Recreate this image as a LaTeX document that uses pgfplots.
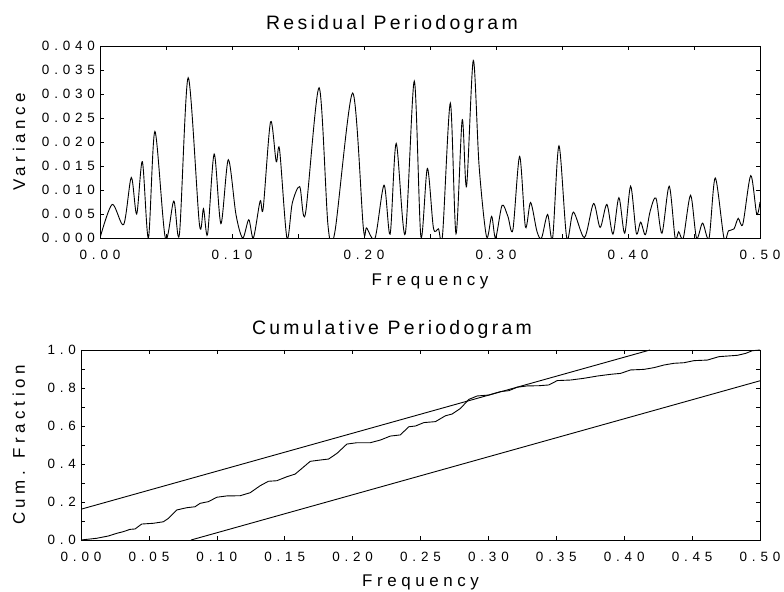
\documentclass[border=0pt]{standalone}
\usepackage{pgfplots}
\pgfplotsset{compat=1.18}
\usepackage{fontspec}
\setmainfont{Liberation Sans}
\newfontfamily\tickfont{Liberation Sans}[LetterSpace=36]
\newfontfamily\labfont{Liberation Sans}[LetterSpace=27]
\newfontfamily\titfont{Liberation Sans}[LetterSpace=17]

\pgfplotstableread{
f v
0.0000 0.0000
0.0092 0.0070
0.0179 0.0028
0.0237 0.0126
0.0278 0.0050
0.0321 0.0159
0.0367 0.0000
0.0416 0.0222
0.0495 0.0000
0.0559 0.0077
0.0602 0.0009
0.0668 0.0334
0.0753 0.0029
0.0784 0.0061
0.0815 0.0008
0.0865 0.0175
0.0916 0.0030
0.0972 0.0163
0.1030 0.0049
0.1081 0.0000
0.1127 0.0038
0.1162 0.0000
0.1213 0.0077
0.1236 0.0061
0.1292 0.0242
0.1335 0.0159
0.1360 0.0185
0.1416 0.0000
0.1457 0.0073
0.1513 0.0107
0.1556 0.0050
0.1660 0.0313
0.1728 0.0024
0.1779 0.0012
0.1914 0.0302
0.1995 0.0021
0.2020 0.0021
0.2084 0.0000
0.2152 0.0110
0.2198 0.0008
0.2244 0.0197
0.2312 0.0008
0.2381 0.0327
0.2431 0.0003
0.2480 0.0145
0.2526 0.0021
0.2564 0.0019
0.2595 0.0006
0.2654 0.0281
0.2697 0.0009
0.2744 0.0246
0.2777 0.0108
0.2828 0.0370
0.2872 0.0150
0.2928 0.0003
0.2967 0.0045
0.2997 0.0000
0.3046 0.0068
0.3090 0.0045
0.3128 0.0017
0.3179 0.0170
0.3223 0.0023
0.3262 0.0074
0.3310 0.0014
0.3345 0.0000
0.3391 0.0049
0.3429 0.0000
0.3477 0.0192
0.3536 0.0000
0.3586 0.0054
0.3670 0.0001
0.3739 0.0072
0.3789 0.0022
0.3840 0.0070
0.3886 0.0008
0.3931 0.0084
0.3975 0.0010
0.4020 0.0108
0.4063 0.0010
0.4096 0.0033
0.4132 0.0007
0.4168 0.0056
0.4212 0.0083
0.4257 0.0010
0.4312 0.0108
0.4357 0.0000
0.4384 0.0013
0.4419 0.0000
0.4474 0.0089
0.4519 0.0000
0.4565 0.0031
0.4614 0.0000
0.4661 0.0125
0.4727 0.0000
0.4762 0.0015
0.4803 0.0019
0.4835 0.0041
0.4870 0.0029
0.4930 0.0130
0.4975 0.0050
0.5000 0.0075
}\periodogram

\pgfplotstableread{
f c
0.0000 0.000
0.0115 0.009
0.0201 0.021
0.0263 0.035
0.0312 0.044
0.0361 0.056
0.0398 0.058
0.0447 0.084
0.0533 0.088
0.0607 0.096
0.0644 0.114
0.0705 0.158
0.0779 0.170
0.0840 0.175
0.0877 0.193
0.0939 0.202
0.1000 0.225
0.1074 0.232
0.1172 0.233
0.1246 0.249
0.1320 0.286
0.1380 0.309
0.1442 0.312
0.1516 0.333
0.1577 0.347
0.1627 0.377
0.1688 0.414
0.1762 0.421
0.1823 0.426
0.1885 0.456
0.1958 0.505
0.2032 0.512
0.2130 0.512
0.2204 0.526
0.2278 0.547
0.2351 0.553
0.2414 0.596
0.2463 0.600
0.2525 0.618
0.2610 0.623
0.2684 0.654
0.2733 0.663
0.2795 0.693
0.2856 0.740
0.2917 0.758
0.3003 0.763
0.3089 0.781
0.3151 0.786
0.3212 0.804
0.3286 0.811
0.3372 0.812
0.3445 0.816
0.3507 0.839
0.3605 0.842
0.3703 0.851
0.3802 0.863
0.3900 0.872
0.3974 0.877
0.4047 0.895
0.4145 0.898
0.4219 0.907
0.4293 0.921
0.4367 0.930
0.4440 0.933
0.4514 0.944
0.4612 0.947
0.4698 0.965
0.4833 0.972
0.4894 0.982
0.4943 0.996
0.5000 1.000
}\cumper

\begin{document}
\begin{tikzpicture}
\useasboundingbox (0,0) rectangle (784bp,592bp);
\pgfplotsset{
  myaxis/.style={
    scale only axis, anchor=south west, xmin=0, xmax=0.5,
    tick align=inside, major tick length=4bp, minor tick length=4bp,
    every tick/.style={black, line width=0.6bp},
    axis line style={line width=0.8bp},
    tick label style={font=\tickfont\fontsize{13.5}{15}\selectfont},
    xticklabel style={yshift=-8.5bp},
    yticklabel style={xshift=-1.5bp},
    label style={font=\labfont\fontsize{17}{19}\selectfont, anchor=base},
    /pgf/number format/assume math mode=true,
  }
}
\begin{axis}[myaxis,
  at={(100bp,354bp)}, width=660bp, height=192bp,
  ymin=0, ymax=0.04,
  xtick={0,0.1,0.2,0.3,0.4,0.5}, minor xtick={0.05,0.15,0.25,0.35,0.45},
  ytick={0,0.005,0.01,0.015,0.02,0.025,0.03,0.035,0.04},
  xticklabel style={/pgf/number format/.cd, fixed, fixed zerofill, precision=2},
  yticklabel style={/pgf/number format/.cd, fixed, fixed zerofill, precision=3},
  scaled y ticks=false,
  xlabel={Frequency}, ylabel={Variance},
  xlabel style={at={(rel axis cs:0.5,-0.245)}},
  ylabel style={at={(rel axis cs:-0.1136,0.5)}},
]
\addplot[black, line width=0.9bp, smooth, tension=0.5] table[x=f, y=v] {\periodogram};
\end{axis}
\node[font=\titfont\fontsize{19.5}{21}\selectfont, anchor=base] at (392bp,562bp) {Residual Periodogram};

\begin{axis}[myaxis,
  at={(81bp,52bp)}, width=679bp, height=190bp,
  ymin=0, ymax=1,
  xtick={0,0.05,0.1,0.15,0.2,0.25,0.3,0.35,0.4,0.45,0.5},
  ytick={0,0.2,0.4,0.6,0.8,1}, minor ytick={0.1,0.3,0.5,0.7,0.9},
  xticklabel style={/pgf/number format/.cd, fixed, fixed zerofill, precision=2},
  yticklabel style={/pgf/number format/.cd, fixed, fixed zerofill, precision=1},
  xlabel={Frequency}, ylabel={Cum. Fraction},
  xlabel style={at={(rel axis cs:0.5,-0.247)}},
  ylabel style={at={(rel axis cs:-0.0825,0.5)}},
]
\addplot[black, line width=0.9bp] table[x=f, y=c] {\cumper};
\addplot[black, line width=0.9bp] coordinates {(0,0.162) (0.419,1)};
\addplot[black, line width=0.9bp] coordinates {(0.081,0) (0.5,0.838)};
\end{axis}
\node[font=\titfont\fontsize{19.5}{21}\selectfont, anchor=base] at (392bp,257bp) {Cumulative Periodogram};
\end{tikzpicture}
\end{document}
